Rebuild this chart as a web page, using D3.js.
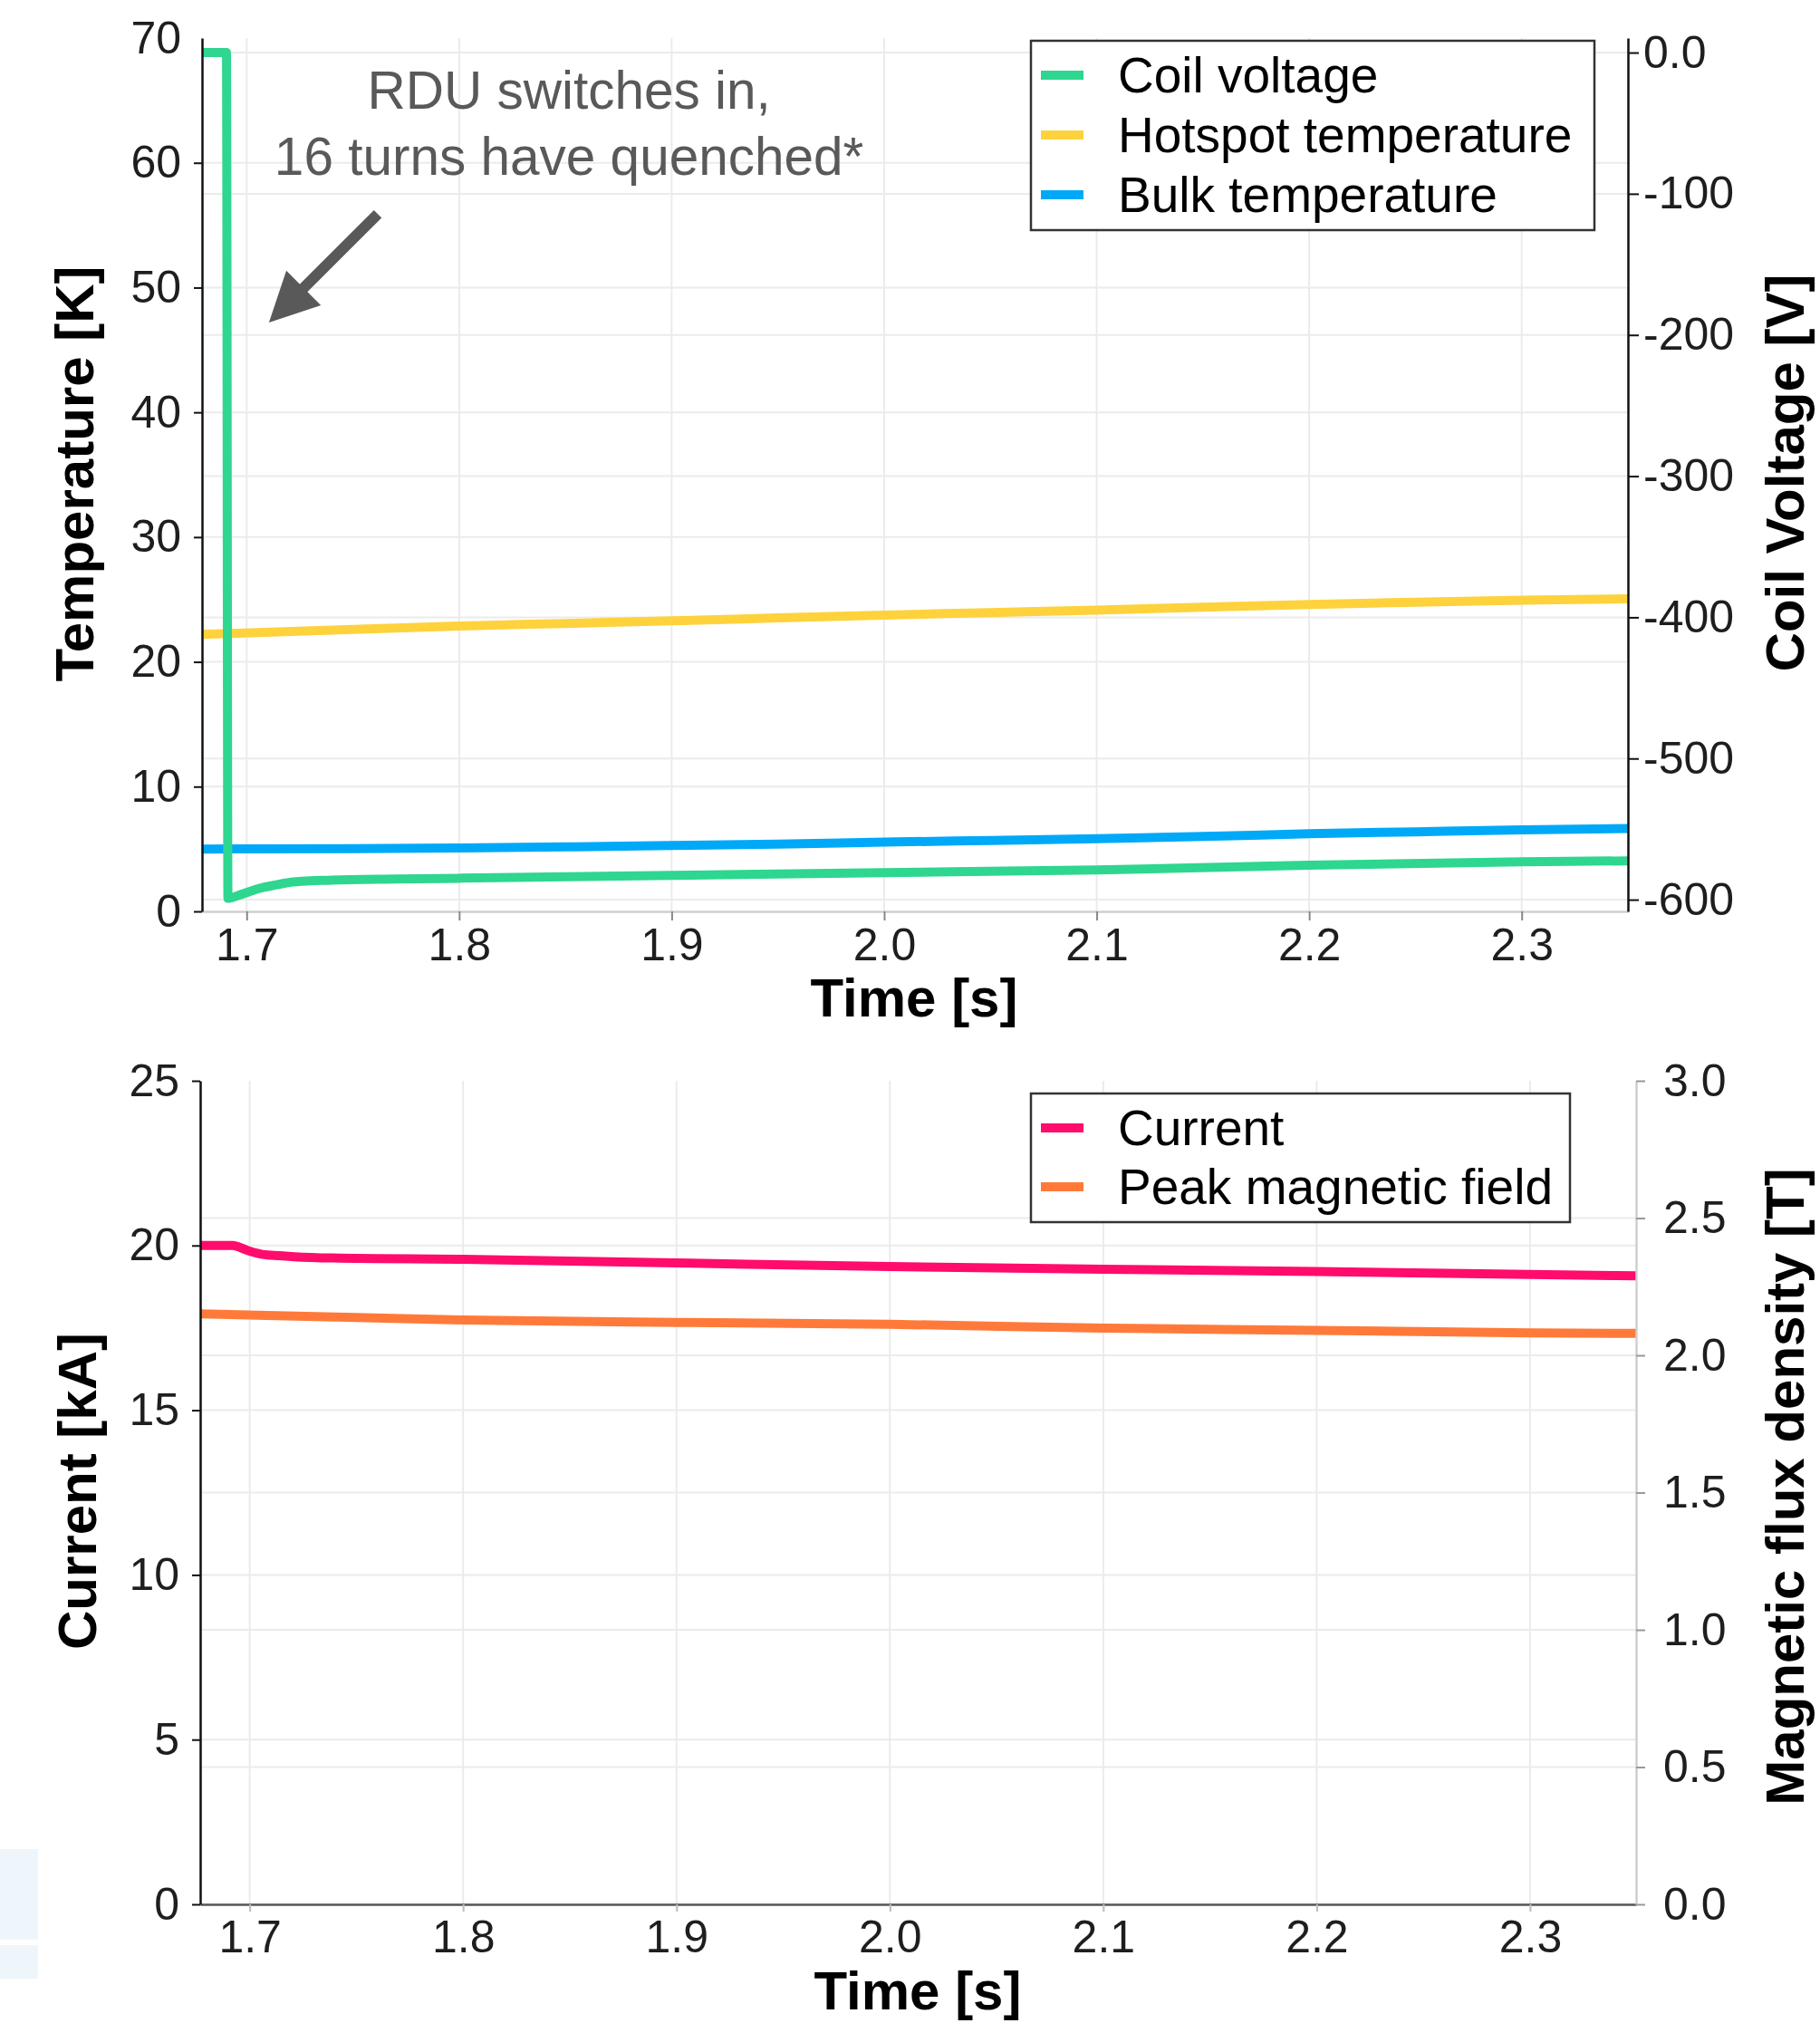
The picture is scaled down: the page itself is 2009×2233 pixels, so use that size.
<!DOCTYPE html>
<html>
<head>
<meta charset="utf-8">
<script src="https://cdn.jsdelivr.net/npm/d3@7"></script>
<style>
  body { margin: 0; background: #fff; }
  svg { display: block; font-family: "Liberation Sans", Arial, sans-serif; }
</style>
</head>
<body>
<svg id="chart" width="2009" height="2233"></svg>
<script>
// ---- top panel: temperatures (left axis) and coil voltage (right axis)
var tempTime     = [1.679, 1.75, 1.8, 1.85, 1.9, 1.95, 2.0, 2.05, 2.1, 2.15, 2.2, 2.25, 2.3, 2.35]
var hotspotTemp  = [22.2, 22.6, 22.87, 23.08, 23.29, 23.52, 23.75, 23.95, 24.15, 24.38, 24.6, 24.78, 24.95, 25.05]
var bulkTemp     = [5.0, 5.02, 5.08, 5.17, 5.28, 5.4, 5.55, 5.69, 5.82, 6.0, 6.22, 6.38, 6.54, 6.65]
var voltTime     = [1.679, 1.6905, 1.6912, 1.697, 1.706, 1.714, 1.722, 1.74, 1.77, 1.8, 1.9, 2.0, 2.1, 2.2, 2.3, 2.35]
var coilVoltage  = [0, 0, -599, -596.5, -592, -589.5, -587.5, -586.2, -585.4, -584.8, -582.8, -580.8, -579, -575.5, -573.2, -572.5]

// ---- bottom panel: current (left axis) and peak field (right axis)
var currTime     = [1.6768, 1.692, 1.699, 1.706, 1.714, 1.721, 1.739, 1.8, 1.9, 2.0, 2.1, 2.2, 2.3, 2.35]
var current      = [20.0, 20.0, 19.85, 19.73, 19.69, 19.66, 19.62, 19.58, 19.47, 19.36, 19.28, 19.21, 19.12, 19.08]
var fieldTime    = [1.6768, 1.75, 1.8, 1.9, 2.0, 2.1, 2.2, 2.3, 2.35]
var peakField    = [2.151, 2.138, 2.129, 2.12, 2.113, 2.099, 2.091, 2.082, 2.08]

// ---- ticks
var timeTicks    = [1.7, 1.8, 1.9, 2.0, 2.1, 2.2, 2.3]
var tempTicks    = [0, 10, 20, 30, 40, 50, 60, 70]
var voltTicks    = [0, -100, -200, -300, -400, -500, -600]
var currTicks    = [0, 5, 10, 15, 20, 25]
var fieldTicks   = [0, 0.5, 1.0, 1.5, 2.0, 2.5, 3.0]

// ---- legends / annotation text
var topLegend    = ["Coil voltage", "Hotspot temperature", "Bulk temperature"]
var botLegend    = ["Current", "Peak magnetic field"]
var noteLines    = ["RDU switches in,", "16 turns have quenched*"]

var colors = {
  voltage: "#2ed690",
  hotspot: "#fed23c",
  bulk: "#00a9f8",
  current: "#ff0c6c",
  field: "#ff7a3a"
}

var svg = d3.select("#chart")
var grid_col = "#ebebeb"

// ================= TOP PANEL =================
var topBox = {left: 223, right: 1797, top: 42, bottom: 1006}

var xT = d3.scaleLinear().domain([1.679, 2.35]).range([topBox.left, topBox.right])
var yTemp = d3.scaleLinear().domain([0, 70]).range([topBox.bottom, topBox.top])
var yVolt = d3.scaleLinear().domain([-608.3, 10.3]).range([topBox.bottom, topBox.top])

function draw_grid(g, x, yL, yR, box, xt, ylt, yrt) {
  g.selectAll(".vg").data(xt).enter().append("line")
    .attr("x1", d => x(d)).attr("x2", d => x(d))
    .attr("y1", box.top).attr("y2", box.bottom)
    .attr("stroke", grid_col).attr("stroke-width", 2)
  g.selectAll(".hgl").data(ylt).enter().append("line")
    .attr("x1", box.left).attr("x2", box.right)
    .attr("y1", d => yL(d)).attr("y2", d => yL(d))
    .attr("stroke", grid_col).attr("stroke-width", 2)
  g.selectAll(".hgr").data(yrt).enter().append("line")
    .attr("x1", box.left).attr("x2", box.right)
    .attr("y1", d => yR(d)).attr("y2", d => yR(d))
    .attr("stroke", grid_col).attr("stroke-width", 2)
}

var gTop = svg.append("g")
draw_grid(gTop, xT, yTemp, yVolt, topBox, timeTicks, tempTicks.filter(d => d > 0 && d < 70), voltTicks)

svg.append("clipPath").attr("id", "clipTop").append("rect")
  .attr("x", topBox.left).attr("y", topBox.top - 20)
  .attr("width", topBox.right - topBox.left).attr("height", topBox.bottom - topBox.top + 20)

function add_line(g, xs, ys, x, y, color, clip) {
  var pts = xs.map((t, i) => [t, ys[i]])
  g.append("path")
    .datum(pts)
    .attr("clip-path", "url(#" + clip + ")")
    .attr("fill", "none")
    .attr("stroke", color)
    .attr("stroke-width", 10)
    .attr("stroke-linejoin", "round")
    .attr("d", d3.line().curve(d3.curveMonotoneX).x(d => x(d[0])).y(d => y(d[1])))
}

add_line(gTop, tempTime, hotspotTemp, xT, yTemp, colors.hotspot, "clipTop")
add_line(gTop, tempTime, bulkTemp, xT, yTemp, colors.bulk, "clipTop")
add_line(gTop, voltTime, coilVoltage, xT, yVolt, colors.voltage, "clipTop")

function style_axis(g, lineCol, fontSize) {
  g.selectAll("text").attr("font-size", fontSize).attr("fill", "#1e1e1e")
    .attr("font-family", "'Liberation Sans', Arial, sans-serif")
  g.select(".domain").attr("stroke", lineCol).attr("stroke-width", 2.5)
  g.selectAll(".tick line").attr("stroke", lineCol).attr("stroke-width", 2)
}

var axTB = gTop.append("g").attr("transform", `translate(0,${topBox.bottom})`)
  .call(d3.axisBottom(xT).tickValues(timeTicks).tickFormat(d3.format(".1f")).tickSize(10).tickSizeOuter(0).tickPadding(8))
style_axis(axTB, "#cfcfcf", 50)
axTB.selectAll(".tick line").attr("stroke", "#888")

var axTL = gTop.append("g").attr("transform", `translate(${topBox.left},0)`)
  .call(d3.axisLeft(yTemp).tickValues(tempTicks).tickSize(9).tickSizeOuter(0).tickPadding(14))
style_axis(axTL, "#111", 50)
axTL.selectAll(".tick").filter(d => d === 70).select("line").remove()

var axTR = gTop.append("g").attr("transform", `translate(${topBox.right},0)`)
  .call(d3.axisRight(yVolt).tickValues(voltTicks).tickFormat(d => d === 0 ? "0.0" : d).tickSize(12).tickSizeOuter(0).tickPadding(5))
style_axis(axTR, "#111", 50)

// titles
svg.append("text").attr("transform", `translate(103,523) rotate(-90)`)
  .attr("text-anchor", "middle").attr("font-size", 60).attr("font-weight", "bold").attr("fill", "#000")
  .text("Temperature [K]")
svg.append("text").attr("transform", `translate(1991,522) rotate(-90)`)
  .attr("text-anchor", "middle").attr("font-size", 60).attr("font-weight", "bold").attr("fill", "#000")
  .text("Coil Voltage [V]")
svg.append("text").attr("x", 1009).attr("y", 1122)
  .attr("text-anchor", "middle").attr("font-size", 60).attr("font-weight", "bold").attr("fill", "#000")
  .text("Time [s]")

// annotation (placed in data coordinates)
var noteAt = {t: 1.8517, T: [64.3, 59.0]}
var arrow = {from: [1.7617, 55.9], to: [1.7105, 47.2]}
noteLines.forEach((s, i) => {
  svg.append("text").attr("x", xT(noteAt.t)).attr("y", yTemp(noteAt.T[i]))
    .attr("text-anchor", "middle").attr("font-size", 58.5).attr("fill", "#595959")
    .text(s)
})
;(function() {
  var x0 = xT(arrow.from[0]), y0 = yTemp(arrow.from[1])
  var x1 = xT(arrow.to[0]), y1 = yTemp(arrow.to[1])
  var dx = x1 - x0, dy = y1 - y0, len = Math.sqrt(dx * dx + dy * dy)
  var ux = dx / len, uy = dy / len
  var head = 54, half = 27
  var bx = x1 - ux * head, by = y1 - uy * head
  svg.append("line").attr("x1", x0).attr("y1", y0).attr("x2", bx + ux * 4).attr("y2", by + uy * 4)
    .attr("stroke", "#595959").attr("stroke-width", 12)
  svg.append("path")
    .attr("d", `M${x1},${y1}L${bx - uy * half},${by + ux * half}L${bx + uy * half},${by - ux * half}Z`)
    .attr("fill", "#595959")
})()

// legend
function draw_legend(box, names, cols) {
  var g = svg.append("g")
  g.append("rect").attr("x", box.x).attr("y", box.y).attr("width", box.w).attr("height", box.h)
    .attr("fill", "#fff").attr("stroke", "#333").attr("stroke-width", 2.5)
  names.forEach((n, i) => {
    var yy = box.y + 38 + i * box.step
    g.append("line").attr("x1", box.x + 11).attr("x2", box.x + 58).attr("y1", yy).attr("y2", yy)
      .attr("stroke", cols[i]).attr("stroke-width", 10)
    g.append("text").attr("x", box.x + 96).attr("y", yy).attr("dy", "0.35em")
      .attr("font-size", 55).attr("fill", "#000").text(n)
  })
}
draw_legend({x: 1138, y: 45, w: 622, h: 209, step: 66}, topLegend, [colors.voltage, colors.hotspot, colors.bulk])

// ================= BOTTOM PANEL =================
var botBox = {left: 221, right: 1806, top: 1193, bottom: 2102}

var xB = d3.scaleLinear().domain([1.6768, 2.3497]).range([botBox.left, botBox.right])
var yCurr = d3.scaleLinear().domain([0, 25]).range([botBox.bottom, botBox.top])
var yField = d3.scaleLinear().domain([0, 3]).range([botBox.bottom, botBox.top])

var gBot = svg.append("g")
draw_grid(gBot, xB, yCurr, yField, botBox, timeTicks, currTicks.filter(d => d > 0 && d < 25), fieldTicks.filter(d => d > 0 && d < 3))

svg.append("clipPath").attr("id", "clipBot").append("rect")
  .attr("x", botBox.left).attr("y", botBox.top)
  .attr("width", botBox.right - botBox.left).attr("height", botBox.bottom - botBox.top)

add_line(gBot, currTime, current, xB, yCurr, colors.current, "clipBot")
add_line(gBot, fieldTime, peakField, xB, yField, colors.field, "clipBot")

var axBB = gBot.append("g").attr("transform", `translate(0,${botBox.bottom})`)
  .call(d3.axisBottom(xB).tickValues(timeTicks).tickFormat(d3.format(".1f")).tickSize(8).tickSizeOuter(0).tickPadding(9))
style_axis(axBB, "#555", 50)
axBB.selectAll(".tick line").attr("stroke", "#bbb")

var axBL = gBot.append("g").attr("transform", `translate(${botBox.left},0)`)
  .call(d3.axisLeft(yCurr).tickValues(currTicks).tickSize(9).tickSizeOuter(0).tickPadding(14))
style_axis(axBL, "#111", 50)

var axBR = gBot.append("g").attr("transform", `translate(${botBox.right},0)`)
  .call(d3.axisRight(yField).tickValues(fieldTicks).tickFormat(d3.format(".1f")).tickSize(10).tickSizeOuter(0).tickPadding(20))
style_axis(axBR, "#cfcfcf", 50)
axBR.selectAll(".tick line").attr("stroke", "#999")

svg.append("text").attr("transform", `translate(106,1646) rotate(-90)`)
  .attr("text-anchor", "middle").attr("font-size", 60).attr("font-weight", "bold").attr("fill", "#000")
  .text("Current [kA]")
svg.append("text").attr("transform", `translate(1991,1641) rotate(-90)`)
  .attr("text-anchor", "middle").attr("font-size", 60).attr("font-weight", "bold").attr("fill", "#000")
  .text("Magnetic flux density [T]")
svg.append("text").attr("x", 1013).attr("y", 2218)
  .attr("text-anchor", "middle").attr("font-size", 60).attr("font-weight", "bold").attr("fill", "#000")
  .text("Time [s]")

draw_legend({x: 1138, y: 1207, w: 595, h: 142, step: 65}, botLegend, [colors.current, colors.field])

// faint slide remnant at lower left
svg.append("rect").attr("x", 0).attr("y", 2041).attr("width", 42).attr("height", 100).attr("fill", "#eef6fb")
svg.append("rect").attr("x", 0).attr("y", 2147).attr("width", 42).attr("height", 37).attr("fill", "#eef6fb")
</script>
</body>
</html>
